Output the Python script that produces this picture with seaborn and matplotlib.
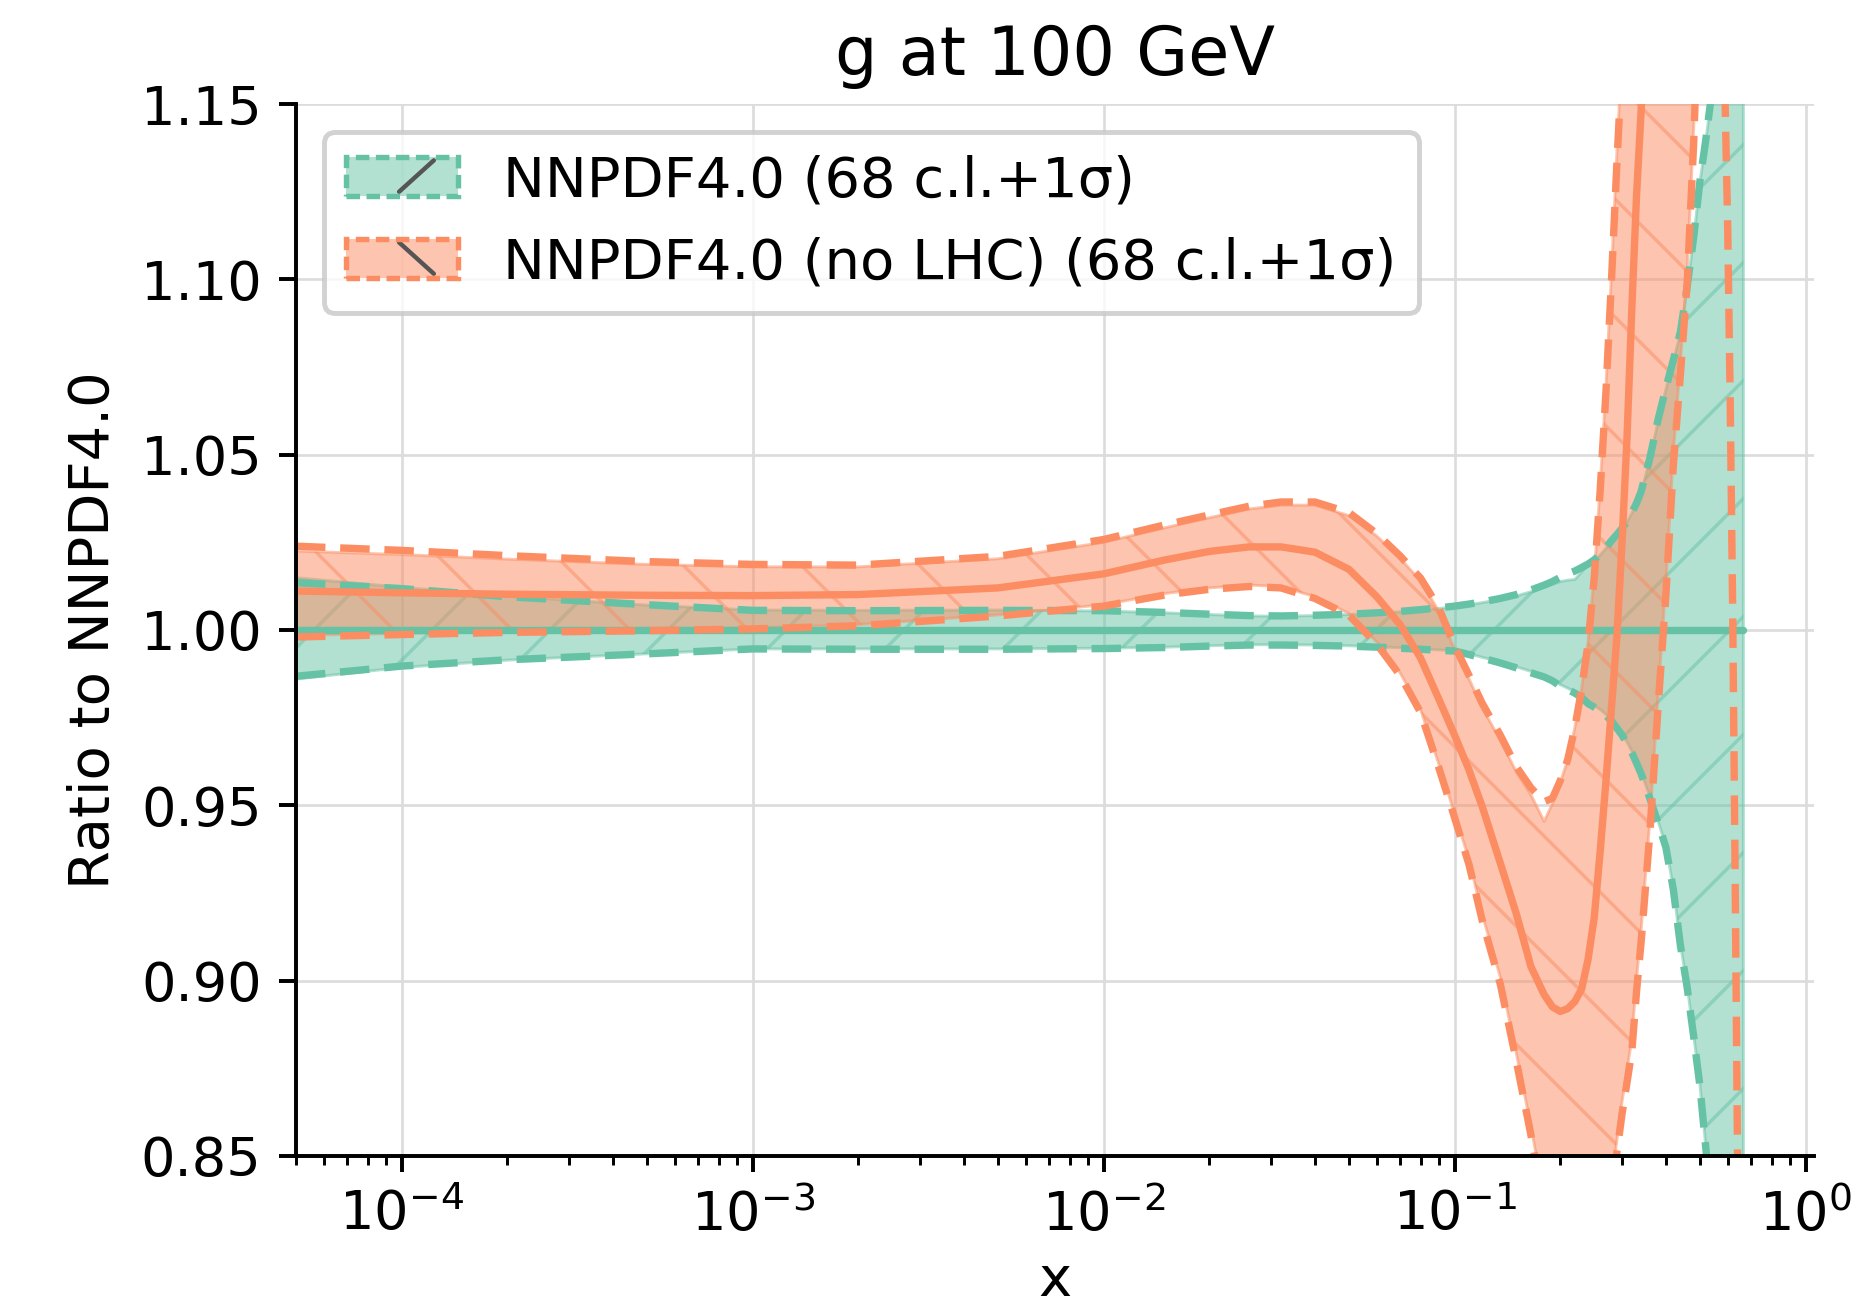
import matplotlib
matplotlib.use("Agg")
import matplotlib.pyplot as plt
import numpy as np
import pandas as pd
import seaborn as sns
from matplotlib.patches import Patch, Rectangle
from matplotlib.lines import Line2D
from matplotlib.legend_handler import HandlerBase
from matplotlib.ticker import FormatStrFormatter, FixedLocator

# ---------------- data ----------------
x_grid = [5e-5, 1e-4, 2e-4, 5e-4, 1e-3, 2e-3, 5e-3, 1e-2,
          0.015, 0.02, 0.026, 0.032, 0.04, 0.05, 0.06, 0.07, 0.08, 0.09, 0.10,
          0.11, 0.12, 0.135, 0.15, 0.165, 0.18,
          0.19, 0.20, 0.21, 0.22, 0.23, 0.24, 0.25, 0.26, 0.27, 0.28, 0.29, 0.30,
          0.31, 0.32, 0.33, 0.34,
          0.36, 0.38, 0.40, 0.42, 0.44, 0.46, 0.48, 0.50, 0.52, 0.54, 0.56,
          0.58, 0.59, 0.60, 0.61, 0.62, 0.63, 0.64, 0.65, 0.665]

# NNPDF4.0 (ratio to itself)
nnpdf_central = [1.0, 1.0, 1.0, 1.0, 1.0, 1.0, 1.0, 1.0,
                 1.0, 1.0, 1.0, 1.0, 1.0, 1.0, 1.0, 1.0, 1.0, 1.0, 1.0,
                 1.0, 1.0, 1.0, 1.0, 1.0, 1.0,
                 1.0, 1.0, 1.0, 1.0, 1.0, 1.0, 1.0, 1.0, 1.0, 1.0, 1.0, 1.0,
                 1.0, 1.0, 1.0, 1.0,
                 1.0, 1.0, 1.0, 1.0, 1.0, 1.0, 1.0, 1.0, 1.0, 1.0, 1.0,
                 1.0, 1.0, 1.0, 1.0, 1.0, 1.0, 1.0, 1.0, 1.0]
nnpdf_68_up = [1.0149, 1.0122, 1.0096, 1.0071, 1.0057, 1.0056, 1.0057, 1.0054,
               1.0049, 1.0044, 1.0040, 1.0039, 1.0041, 1.0044, 1.0048, 1.0052, 1.0056, 1.0061, 1.0066,
               1.0072, 1.0078, 1.0087, 1.0097, 1.0109, 1.0122,
               1.0130, 1.0138, 1.0142, 1.0144, 1.0165, 1.0185, 1.0198, 1.0214, 1.0233, 1.0253, 1.0270, 1.0288,
               1.0308, 1.0333, 1.0360, 1.0392,
               1.0486, 1.0596, 1.0686, 1.0766, 1.0846, 1.0976, 1.1116, 1.1276, 1.1396, 1.1526, 1.1676,
               1.1850, 1.1950, 1.2070, 1.2200, 1.2350, 1.2500, 1.2700, 1.2900, 1.3200]
nnpdf_68_dn = [0.9860, 0.9893, 0.9914, 0.9932, 0.9946, 0.9946, 0.9946, 0.9948,
               0.9951, 0.9955, 0.9958, 0.9958, 0.9957, 0.9955, 0.9952, 0.9949, 0.9946, 0.9943, 0.9941,
               0.9932, 0.9922, 0.9909, 0.9895, 0.9882, 0.9870,
               0.9858, 0.9844, 0.9834, 0.9824, 0.9812, 0.9794, 0.9784, 0.9773, 0.9759, 0.9743, 0.9724, 0.9704,
               0.9680, 0.9654, 0.9624, 0.9594,
               0.9525, 0.9455, 0.9385, 0.9265, 0.9105, 0.8985, 0.8845, 0.8705, 0.8525, 0.8355, 0.8155,
               0.7900, 0.7750, 0.7600, 0.7450, 0.7300, 0.7150, 0.7000, 0.6800, 0.6600]
nnpdf_sd_up = [1.0135, 1.0118, 1.0095, 1.0072, 1.0056, 1.0055, 1.0056, 1.0055,
               1.0050, 1.0045, 1.0041, 1.0040, 1.0042, 1.0045, 1.0049, 1.0053, 1.0058, 1.0063, 1.0068,
               1.0074, 1.0080, 1.0090, 1.0101, 1.0114, 1.0128,
               1.0138, 1.0150, 1.0160, 1.0168, 1.0178, 1.0188, 1.0200, 1.0216, 1.0235, 1.0255, 1.0272, 1.0290,
               1.0310, 1.0335, 1.0362, 1.0395,
               1.0490, 1.0600, 1.0690, 1.0770, 1.0850, 1.0980, 1.1120, 1.1280, 1.1400, 1.1530, 1.1680,
               1.1850, 1.1950, 1.2070, 1.2200, 1.2350, 1.2500, 1.2700, 1.2900, 1.3200]
nnpdf_sd_dn = [0.9868, 0.9897, 0.9915, 0.9932, 0.9946, 0.9945, 0.9945, 0.9947,
               0.9950, 0.9954, 0.9957, 0.9957, 0.9956, 0.9954, 0.9951, 0.9948, 0.9945, 0.9942, 0.9940,
               0.9930, 0.9920, 0.9906, 0.9892, 0.9878, 0.9866,
               0.9855, 0.9840, 0.9830, 0.9820, 0.9808, 0.9790, 0.9780, 0.9770, 0.9756, 0.9740, 0.9720, 0.9700,
               0.9676, 0.9650, 0.9620, 0.9590,
               0.9520, 0.9450, 0.9380, 0.9260, 0.9100, 0.8980, 0.8840, 0.8700, 0.8520, 0.8350, 0.8150,
               0.7900, 0.7750, 0.7600, 0.7450, 0.7300, 0.7150, 0.7000, 0.6800, 0.6600]

# NNPDF4.0 (no LHC)
nolhc_central = [1.0111, 1.0106, 1.0102, 1.0099, 1.0098, 1.0101, 1.0120, 1.0160,
                 1.0200, 1.0224, 1.0237, 1.0237, 1.0222, 1.0173, 1.0095, 1.0015, 0.9920, 0.9805, 0.9700,
                 0.9600, 0.9495, 0.9335, 0.9190, 0.9040, 0.8960,
                 0.8925, 0.8912, 0.8920, 0.8940, 0.8975, 0.9060, 0.9180, 0.9370, 0.9570, 0.9780, 0.9980, 1.0250,
                 1.0550, 1.0920, 1.1240, 1.1480,
                 1.2000, 1.2600, 1.3200, 1.3800, 1.4400, 1.5000, 1.5600, 1.6200, 1.6800, 1.7400, 1.8000,
                 1.8600, 1.8900, 1.9200, 1.9500, 1.9800, 2.0100, 2.0400, 2.0700, 2.1000]
nolhc_68_up = [1.0225, 1.0215, 1.0202, 1.0187, 1.0180, 1.0180, 1.0203, 1.0250,
               1.0292, 1.0320, 1.0345, 1.0356, 1.0356, 1.0326, 1.0268, 1.0204, 1.0140, 1.0055, 0.9945,
               0.9860, 0.9778, 0.9685, 0.9595, 0.9530, 0.9454,
               0.9505, 0.9565, 0.9628, 0.9720, 0.9832, 0.9965, 1.0158, 1.0410, 1.0695, 1.1020, 1.1360, 1.1660,
               1.2000, 1.2400, 1.2800, 1.3200,
               1.4000, 1.4800, 1.5600, 1.6400, 1.7200, 1.8000, 1.8800, 1.9600, 2.0400, 2.1200, 2.2000,
               2.3000, 2.3500, 2.4000, 2.4500, 2.5000, 2.5500, 2.6000, 2.6500, 2.7000]
nolhc_68_dn = [0.9985, 0.9990, 0.9996, 1.0001, 1.0006, 1.0015, 1.0043, 1.0072,
               1.0104, 1.0120, 1.0128, 1.0124, 1.0095, 1.0047, 0.9966, 0.9877, 0.9773, 0.9620, 0.9477,
               0.9345, 0.9187, 0.9010, 0.8792, 0.8585, 0.8378,
               0.8250, 0.8150, 0.8072, 0.8022, 0.8003, 0.8022, 0.8083, 0.8183, 0.8303, 0.8423, 0.8545, 0.8655,
               0.8745, 0.8835, 0.9005, 0.9145,
               0.9455, 0.9815, 1.0135, 1.0505, 1.0765, 1.1030, 1.1430, 1.1950, 1.2600, 1.3300, 1.4000,
               1.4800, 1.5200, 1.5600, 1.6000, 1.6500, 1.7000, 1.7500, 1.8000, 1.9000]
nolhc_sd_up = [1.0239, 1.0227, 1.0212, 1.0195, 1.0187, 1.0185, 1.0210, 1.0258,
               1.0300, 1.0328, 1.0353, 1.0365, 1.0365, 1.0335, 1.0275, 1.0211, 1.0148, 1.0065, 0.9955,
               0.9870, 0.9790, 0.9700, 0.9610, 0.9550, 0.9510,
               0.9520, 0.9570, 0.9630, 0.9720, 0.9830, 0.9960, 1.0150, 1.0400, 1.0680, 1.1000, 1.1330, 1.1620,
               1.2000, 1.2400, 1.2800, 1.3200,
               1.4000, 1.4800, 1.5600, 1.6400, 1.7200, 1.8000, 1.8800, 1.9600, 2.0400, 2.1200, 2.2000,
               2.4000, 2.5000, 2.6000, 2.8000, 3.0000, 3.2000, 3.5000, 3.8000, 4.2000]
nolhc_sd_dn = [0.9980, 0.9987, 0.9993, 0.9998, 1.0003, 1.0012, 1.0040, 1.0068,
               1.0100, 1.0116, 1.0124, 1.0120, 1.0090, 1.0042, 0.9960, 0.9870, 0.9765, 0.9610, 0.9465,
               0.9330, 0.9170, 0.8990, 0.8770, 0.8560, 0.8350,
               0.8220, 0.8120, 0.8040, 0.7990, 0.7970, 0.7990, 0.8050, 0.8150, 0.8270, 0.8390, 0.8510, 0.8620,
               0.8710, 0.8800, 0.8970, 0.9110,
               0.9420, 0.9780, 1.0100, 1.0470, 1.0730, 1.0990, 1.1390, 1.1900, 1.2400, 1.2800, 1.3000,
               1.2200, 1.1500, 1.1150, 1.0650, 1.0050, 0.9300, 0.8500, 0.7000, 0.5000]

labels = ["NNPDF4.0 (68 c.l.+1σ)", "NNPDF4.0 (no LHC) (68 c.l.+1σ)"]
y_ticks = [0.85, 0.90, 0.95, 1.00, 1.05, 1.10, 1.15]

# ---------------- styling ----------------
DPI = 354
sns.set_theme(style="ticks", rc={
    "axes.edgecolor": "black",
    "axes.linewidth": 0.8,
    "text.color": "black",
    "axes.labelcolor": "black",
    "xtick.color": "black",
    "ytick.color": "black",
    "xtick.major.width": 0.8,
    "ytick.major.width": 0.8,
    "xtick.minor.width": 0.6,
    "xtick.major.size": 3.2,
    "ytick.major.size": 3.5,
    "xtick.minor.size": 1.8,
    "grid.color": "#dcdcdc",
    "grid.linewidth": 0.55,
    "hatch.linewidth": 0.7,
})
plt.rcParams["font.family"] = ["DejaVu Sans"]
plt.rcParams["mathtext.fontset"] = "dejavusans"

palette = sns.color_palette("Set2", 2)
teal, orange = palette[0], palette[1]

fig, ax = plt.subplots(figsize=(1859 / DPI, 1310 / DPI), dpi=DPI)
fig.subplots_adjust(left=0.1592, right=0.9758, top=0.9206, bottom=0.1176)

series = [
    (teal, "/", nnpdf_central, nnpdf_68_dn, nnpdf_68_up, nnpdf_sd_dn, nnpdf_sd_up),
    (orange, "\\", nolhc_central, nolhc_68_dn, nolhc_68_up, nolhc_sd_dn, nolhc_sd_up),
]

dash = (0, (4.0, 2.0))
LW = 1.5
for color, hatch, cen, d68, u68, dsd, usd in series:
    ax.fill_between(x_grid, d68, u68, color=color, alpha=0.5, hatch=hatch,
                    linewidth=0.6, zorder=1)
for color, hatch, cen, d68, u68, dsd, usd in series:
    df = pd.DataFrame({"x": x_grid, "central": cen, "sd_up": usd, "sd_dn": dsd})
    sns.lineplot(data=df, x="x", y="central", ax=ax, color=color, lw=LW,
                 estimator=None, legend=False, zorder=2)
    sns.lineplot(data=df, x="x", y="sd_up", ax=ax, color=color, lw=LW,
                 linestyle=dash, estimator=None, legend=False, zorder=2)
    sns.lineplot(data=df, x="x", y="sd_dn", ax=ax, color=color, lw=LW,
                 linestyle=dash, estimator=None, legend=False, zorder=2)

ax.set_xscale("log")
ax.set_xlim(5e-5, 1.057)
ax.set_ylim(0.85, 1.15)
ax.yaxis.set_major_locator(FixedLocator(y_ticks))
ax.yaxis.set_major_formatter(FormatStrFormatter("%.2f"))
ax.grid(True, which="major", axis="both")
ax.set_axisbelow(True)
sns.despine(ax=ax)

ax.tick_params(axis="both", which="major", labelsize=11)
ax.set_title("g at 100 GeV", fontsize=13.6)
ax.set_xlabel("x", fontsize=11.4, labelpad=2.5)
ax.set_ylabel("Ratio to NNPDF4.0", fontsize=11.4)


class BandHandler(HandlerBase):
    """Legend key: translucent band, dashed outline and one hatch stroke."""

    def __init__(self, color, direction):
        super().__init__()
        self.color = color
        self.direction = direction

    def create_artists(self, legend, orig_handle, xdescent, ydescent,
                       width, height, fontsize, trans):
        x0, y0 = -xdescent, -ydescent
        fill = Rectangle((x0, y0), width, height, facecolor=self.color,
                         alpha=0.5, edgecolor="none", transform=trans)
        edge = Rectangle((x0, y0), width, height, facecolor="none",
                         edgecolor=self.color, linestyle=(0, (2.5, 1.2)),
                         linewidth=1.1, transform=trans)
        xa, xb = x0 + 0.47 * width, x0 + 0.78 * width
        if self.direction == "/":
            ys = [y0 + 0.12 * height, y0 + 0.92 * height]
        else:
            ys = [y0 + 0.92 * height, y0 + 0.12 * height]
        stroke = Line2D([xa, xb], ys, color="#555555", lw=0.9,
                        transform=trans)
        return [fill, stroke, edge]


key_teal = Patch(facecolor=teal)
key_orange = Patch(facecolor=orange)
ax.legend([key_teal, key_orange], labels, loc="upper left", fontsize=11.4,
          handler_map={key_teal: BandHandler(teal, "/"),
                       key_orange: BandHandler(orange, "\\")},
          frameon=True, fancybox=True, framealpha=0.8, edgecolor="0.78")

fig.savefig("out.png", dpi=DPI)
